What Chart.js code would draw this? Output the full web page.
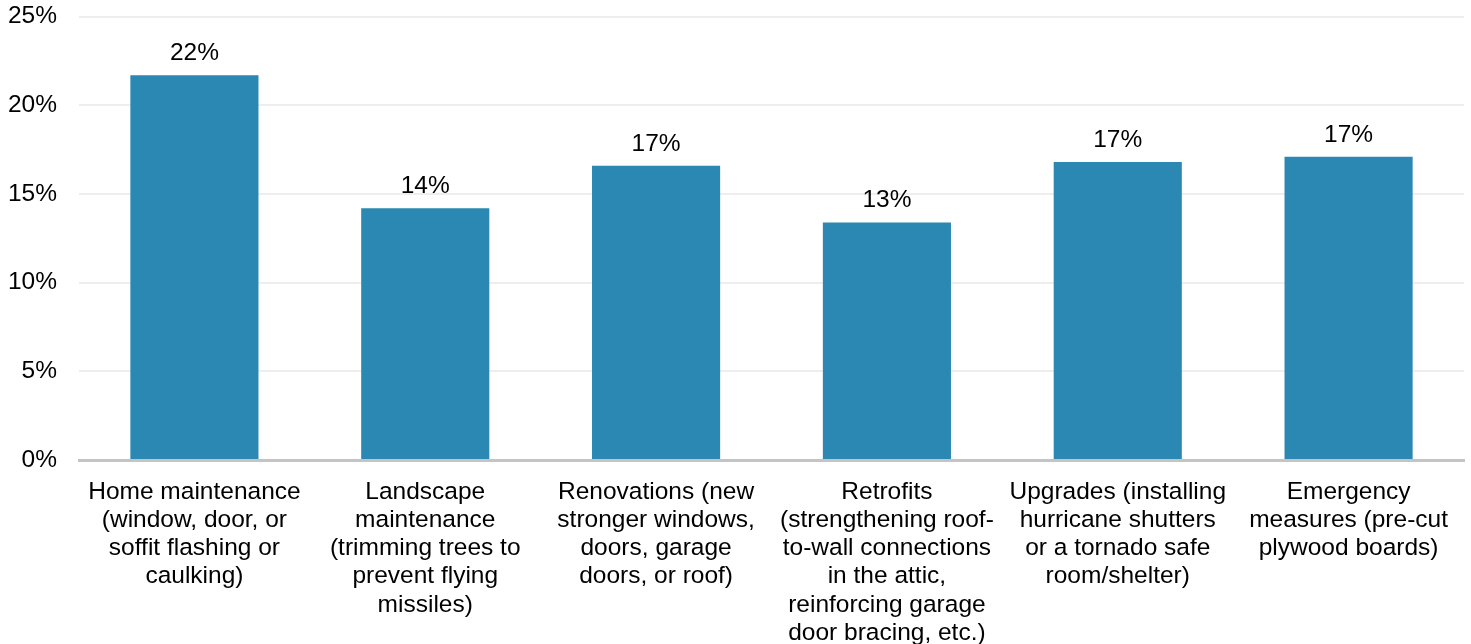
<!DOCTYPE html>
<html>
<head>
<meta charset="utf-8">
<script src="https://cdn.jsdelivr.net/npm/chart.js@4"></script>
<style>
  html, body { margin: 0; padding: 0; background: #fff; overflow: hidden; }
  #wrap { width: 1471px; height: 664px; margin-top: -20px; }
</style>
</head>
<body>
<div id="wrap"><canvas id="myChart"></canvas></div>
<script>
const categories = [
    ['Home maintenance', '(window, door, or', 'soffit flashing or', 'caulking)'],
    ['Landscape', 'maintenance', '(trimming trees to', 'prevent flying', 'missiles)'],
    ['Renovations (new', 'stronger windows,', 'doors, garage', 'doors, or roof)'],
    ['Retrofits', '(strengthening roof-', 'to-wall connections', 'in the attic,', 'reinforcing garage', 'door bracing, etc.)'],
    ['Upgrades (installing', 'hurricane shutters', 'or a tornado safe', 'room/shelter)'],
    ['Emergency', 'measures (pre-cut', 'plywood boards)']
];
const shares = [21.7, 14.2, 16.6, 13.4, 16.8, 17.1];
const yTicks = [0, 5, 10, 15, 20, 25];

Chart.defaults.font.family = '"Liberation Sans", Arial, sans-serif';
Chart.defaults.font.size = 24.5;
Chart.defaults.color = '#000';

// percentage labels above each bar
const barLabels = {
    id: 'barLabels',
    afterDatasetsDraw(chart) {
        const c = chart.ctx;
        const meta = chart.getDatasetMeta(0);
        c.save();
        c.font = '24.5px "Liberation Sans", Arial, sans-serif';
        c.fillStyle = '#000';
        c.textAlign = 'center';
        c.textBaseline = 'alphabetic';
        meta.data.forEach((bar, i) => {
            c.fillText(Math.round(shares[i]) + '%', bar.x, bar.y - 15);
        });
        c.restore();
    }
};

const ctx = document.getElementById('myChart').getContext('2d');
let myChart = new Chart(ctx, {
    type: 'bar',
    data: {
        labels: categories,
        datasets: [{
            data: shares,
            backgroundColor: '#2a88b2',
            categoryPercentage: 1,
            barPercentage: 0.555
        }]
    },
    plugins: [barLabels],
    options: {
        responsive: true,
        maintainAspectRatio: false,
        animation: false,
        layout: { padding: { top: 0, right: 7, left: 0, bottom: 0 } },
        plugins: {
            legend: { display: false },
            tooltip: { enabled: false }
        },
        scales: {
            x: {
                grid: { display: false, drawTicks: false },
                border: { display: true, color: '#c4c4c4', width: 3 },
                ticks: {
                    padding: 18,
                    maxRotation: 0,
                    autoSkip: false,
                    font: { size: 24.5, lineHeight: 1.15 }
                },
                afterFit(scale) { scale.height = 184; }
            },
            y: {
                min: 0,
                max: 25,
                afterBuildTicks(scale) {
                    scale.ticks = yTicks.map(v => ({ value: v }));
                },
                grid: { color: '#eeeeee', lineWidth: 2, drawTicks: false },
                border: { display: false },
                ticks: {
                    padding: 22,
                    font: { size: 24.5 },
                    callback: v => v + '%'
                },
                afterFit(scale) { scale.width = 79; }
            }
        }
    }
});
</script>
</body>
</html>
